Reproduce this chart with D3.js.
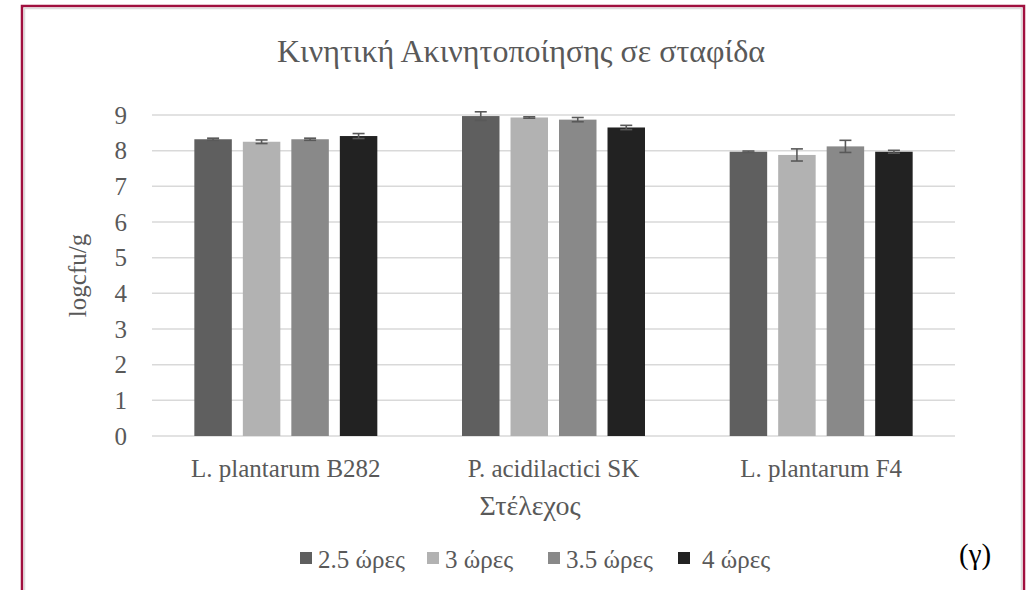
<!DOCTYPE html>
<meta charset="utf-8" />
<style>
  body {
    margin: 0;
    background: #fff;
  }
  text {
    fill: #595959;
    font-family: "Liberation Serif", "DejaVu Serif", serif;
  }
</style>
<body>
  <div class="container"></div>

  <script src="https://d3js.org/d3.v7.min.js"></script>
  <script>
    // data
    const categories = ["L. plantarum B282", "P. acidilactici SK", "L. plantarum F4"];
    const seriesNames = ["2.5 ώρες", "3 ώρες", "3.5 ώρες", "4 ώρες"];
    const vals25 = [8.32, 8.97, 7.97];
    const vals3 = [8.25, 8.93, 7.88];
    const vals35 = [8.32, 8.87, 8.12];
    const vals4 = [8.41, 8.65, 7.97];
    const err25 = [0.03, 0.12, 0.02];
    const err3 = [0.05, 0.02, 0.17];
    const err35 = [0.03, 0.06, 0.17];
    const err4 = [0.07, 0.06, 0.04];
    const yTicks = [0, 1, 2, 3, 4, 5, 6, 7, 8, 9];

    const colors = ["#5f5f5f", "#b2b2b2", "#898989", "#222222"];
    const allVals = [vals25, vals3, vals35, vals4];
    const allErr = [err25, err3, err35, err4];

    const rows = [];
    categories.forEach(function (c, ci) {
      seriesNames.forEach(function (s, si) {
        rows.push({ cat: c, ser: s, v: allVals[si][ci], e: allErr[si][ci], color: colors[si] });
      });
    });

    const W = 1030, H = 590;
    const plotL = 152, plotR = 955, plotT = 115, plotB = 436;
    const serif = '"Liberation Serif", "DejaVu Serif", serif';

    const svg = d3
      .select(".container")
      .append("svg")
      .attr("width", W)
      .attr("height", H);

    // frame
    svg.append("rect")
      .attr("x", 22).attr("y", 6)
      .attr("width", 1002).attr("height", 600)
      .attr("fill", "none")
      .attr("stroke", "#a0103f")
      .attr("stroke-width", 2.5);
    svg.append("rect")
      .attr("x", 24.5).attr("y", 8.5)
      .attr("width", 997).attr("height", 600)
      .attr("fill", "none")
      .attr("stroke", "#dcdcdc")
      .attr("stroke-width", 1.5);

    let x0 = d3.scaleBand().domain(categories).range([plotL, plotR]);
    let x1 = d3.scaleBand().domain(seriesNames).range([0, x0.bandwidth()])
      .paddingInner(0.227).paddingOuter(0.873);
    let y = d3.scaleLinear().domain([0, 9]).range([plotB, plotT]);

    // grid
    svg.append("g")
      .selectAll("line")
      .data(yTicks)
      .join("line")
      .attr("x1", plotL).attr("x2", plotR)
      .attr("y1", d => y(d)).attr("y2", d => y(d))
      .attr("stroke", "#d9d9d9")
      .attr("stroke-width", 1.5);

    // y tick labels
    const yAxis = svg.append("g")
      .attr("transform", "translate(" + (plotL - 8) + ",0)")
      .call(d3.axisLeft(y).tickValues(yTicks).tickSize(0).tickPadding(17));
    yAxis.select(".domain").remove();
    yAxis.selectAll("text")
      .attr("font-family", serif)
      .attr("font-size", 25)
      .attr("fill", "#595959");

    // bars
    svg.append("g")
      .selectAll("rect")
      .data(rows)
      .join("rect")
      .attr("x", d => x0(d.cat) + x1(d.ser))
      .attr("y", d => y(d.v))
      .attr("width", x1.bandwidth())
      .attr("height", d => y(0) - y(d.v))
      .attr("fill", d => d.color);

    // error bars
    const eg = svg.append("g").attr("stroke", "#595959").attr("stroke-width", 1.6);
    rows.forEach(function (d) {
      const cx = x0(d.cat) + x1(d.ser) + x1.bandwidth() / 2;
      eg.append("line").attr("x1", cx).attr("x2", cx)
        .attr("y1", y(d.v + d.e)).attr("y2", y(d.v - d.e));
      [d.v + d.e, d.v - d.e].forEach(function (t) {
        eg.append("line").attr("x1", cx - 6).attr("x2", cx + 6)
          .attr("y1", y(t)).attr("y2", y(t));
      });
    });

    // x category labels
    const xAxis = svg.append("g")
      .attr("transform", "translate(0," + plotB + ")")
      .call(d3.axisBottom(x0).tickSize(0).tickPadding(23));
    xAxis.select(".domain").remove();
    xAxis.selectAll("text")
      .attr("font-family", serif)
      .attr("font-size", 25)
      .attr("fill", "#595959");

    // titles
    svg.append("text")
      .attr("x", 521).attr("y", 62)
      .attr("text-anchor", "middle")
      .attr("font-size", 32)
      .text("Κινητική Ακινητοποίησης σε σταφίδα");

    svg.append("text")
      .attr("x", 530).attr("y", 515)
      .attr("text-anchor", "middle")
      .attr("font-size", 28)
      .text("Στέλεχος");

    svg.append("text")
      .attr("transform", "translate(86," + (plotB + plotT) / 2 + ") rotate(-90)")
      .attr("text-anchor", "middle")
      .attr("font-size", 25)
      .text("logcfu/g");

    // legend
    const legX = [300, 427, 548, 678];
    const leg = svg.append("g");
    seriesNames.forEach(function (s, i) {
      leg.append("rect")
        .attr("x", legX[i]).attr("y", 552)
        .attr("width", 12).attr("height", 12)
        .attr("fill", colors[i]);
      leg.append("text")
        .attr("x", legX[i] + (i === 3 ? 24 : 18)).attr("y", 568)
        .attr("font-size", 25)
        .text(s);
    });

    svg.append("text")
      .attr("x", 959).attr("y", 564)
      .attr("font-size", 29)
      .style("fill", "#000")
      .text("(γ)");
  </script>
</body>
